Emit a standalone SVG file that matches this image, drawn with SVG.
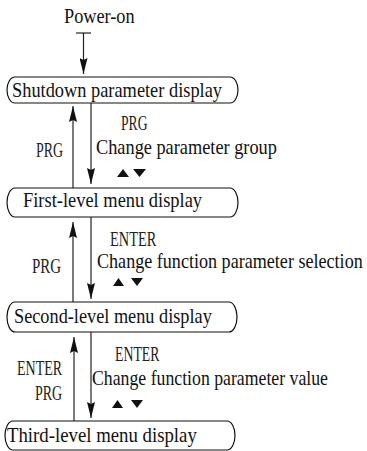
<svg xmlns="http://www.w3.org/2000/svg" width="367" height="451" viewBox="0 0 367 451">
<style>
text{font-family:"Liberation Serif","Times New Roman",serif;fill:#111;}
.t{font-size:21px;}
.l{font-size:20px;fill:#222;}
.box{fill:#fff;stroke:#111;stroke-width:1.2;}
.c{stroke:#222;stroke-width:1.2;fill:none;}
.tri{fill:#111;}
</style>
<defs>
<marker id="ah" viewBox="0 0 16 8" refX="16" refY="4" markerWidth="16" markerHeight="8" markerUnits="userSpaceOnUse" orient="auto">
<path d="M0,0 L16,4 L0,8 L2,4 z" fill="#111"/>
</marker>
</defs>
<g id="connectors">
<line class="c" x1="76" y1="33" x2="91" y2="33"/>
<line class="c" x1="83.5" y1="33" x2="83.5" y2="74" marker-end="url(#ah)"/>
<line class="c" x1="73" y1="188" x2="73" y2="106" marker-end="url(#ah)"/>
<line class="c" x1="91" y1="103" x2="91" y2="184" marker-end="url(#ah)"/>
<line class="c" x1="73" y1="302" x2="73" y2="222" marker-end="url(#ah)"/>
<line class="c" x1="91" y1="217" x2="91" y2="299" marker-end="url(#ah)"/>
<line class="c" x1="74" y1="421" x2="74" y2="337" marker-end="url(#ah)"/>
<line class="c" x1="91" y1="332" x2="91" y2="418" marker-end="url(#ah)"/>
</g>
<g id="power-on">
<text class="t" transform="translate(64,23) scale(0.87,1)">Power-on</text>
</g>
<g id="shutdown">
<path class="box" d="M15,77 H230 A8,13 0 0 1 230,103 H15 A8,13 0 0 1 15,77 Z"/>
<text class="t" transform="translate(12,97) scale(0.874,1)">Shutdown parameter display</text>
</g>
<g id="first-level">
<path class="box" d="M15,188 H230 A8,14.5 0 0 1 230,217 H15 A8,14.5 0 0 1 15,188 Z"/>
<text class="t" transform="translate(23,207) scale(0.877,1)">First-level menu display</text>
</g>
<g id="second-level">
<path class="box" d="M15,302 H229 A8,15 0 0 1 229,332 H15 A8,15 0 0 1 15,302 Z"/>
<text class="t" transform="translate(14,323) scale(0.87,1)">Second-level menu display</text>
</g>
<g id="third-level">
<path class="box" d="M13,421 H227 A8,14.5 0 0 1 227,450 H13 A8,14.5 0 0 1 13,421 Z"/>
<text class="t" transform="translate(7,442) scale(0.895,1)">Third-level menu display</text>
</g>
<g id="labels">
<text class="l" transform="translate(121,130) scale(0.68,1)">PRG</text>
<text class="l" transform="translate(36,157) scale(0.7,1)">PRG</text>
<text class="t" transform="translate(96,154) scale(0.872,1)">Change parameter group</text>
<path class="tri" d="M117,177 L123,169 L129,177 Z M133,169 L146,169 L139.5,177 Z"/>
<text class="l" transform="translate(110,246) scale(0.72,1)">ENTER</text>
<text class="l" transform="translate(32,273) scale(0.75,1)">PRG</text>
<text class="t" transform="translate(97,268) scale(0.862,1)">Change function parameter selection</text>
<path class="tri" d="M113,286 L118.5,278 L124,286 Z M131,278 L143,278 L137,286 Z"/>
<text class="l" transform="translate(115,361) scale(0.69,1)">ENTER</text>
<text class="l" transform="translate(17,375) scale(0.7,1)">ENTER</text>
<text class="l" transform="translate(35,400) scale(0.7,1)">PRG</text>
<text class="t" transform="translate(92,385) scale(0.845,1)">Change function parameter value</text>
<path class="tri" d="M112,408 L117.5,400 L123,408 Z M131,400 L143,400 L137,408 Z"/>
</g>
</svg>
